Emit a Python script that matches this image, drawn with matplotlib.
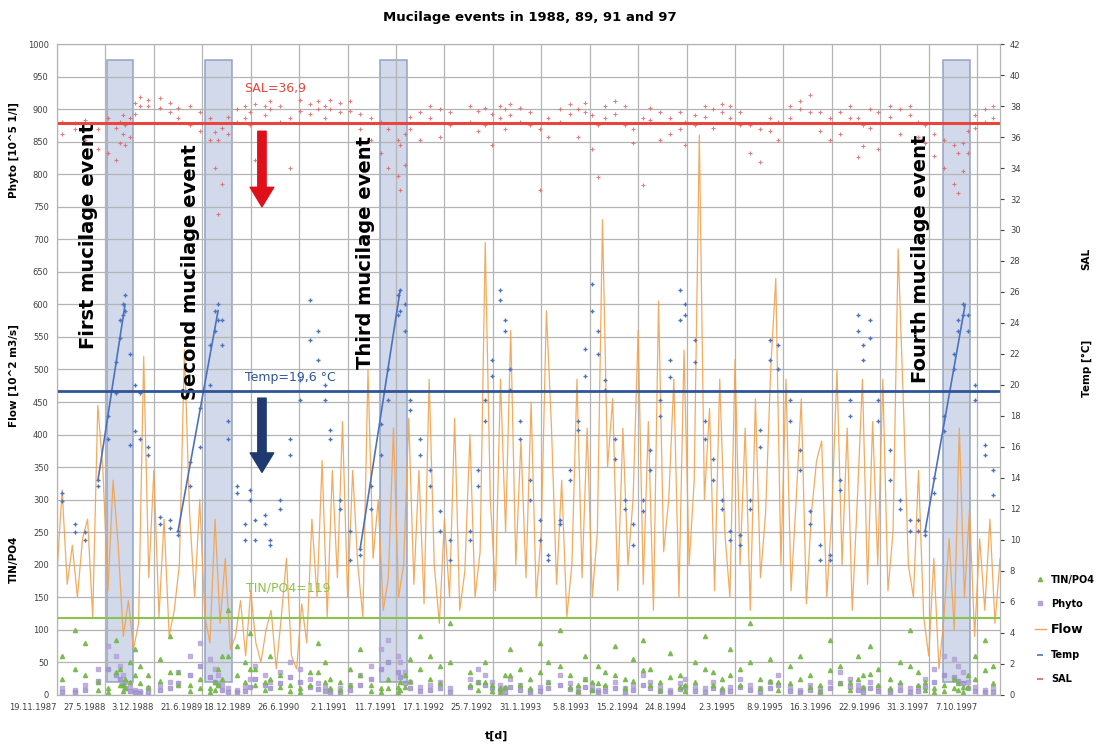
import numpy as np
import matplotlib.pyplot as plt
from matplotlib.patches import Rectangle
from matplotlib.lines import Line2D

###------------- data -------------###
# x axis: days since 19.11.1987, labels every 190 days
tick_labels = ['19.11.1987', '27.5.1988', '3.12.1988', '21.6.1989', '18.12.1989',
               '26.6.1990', '2.1.1991', '11.7.1991', '17.1.1992', '25.7.1992',
               '31.1.1993', '5.8.1993', '15.2.1994', '24.8.1994', '2.3.1995',
               '8.9.1995', '16.3.1996', '22.9.1996', '31.3.1997', '7.10.1997']
tick_days = [190 * i for i in range(len(tick_labels))]

# flow [10^2 m3/s], one value every 20 days
flow_days = np.arange(0, 3720, 20)
flow = [190, 315, 170, 230, 150, 240, 270, 120, 445, 345,
        160, 330, 230, 90, 145, 70, 110, 520, 180, 345,
        120, 270, 90, 130, 200, 530, 280, 150, 300, 120,
        80, 270, 110, 210, 70, 90, 145, 60, 160, 80,
        50, 100, 130, 40, 120, 210, 60, 40, 140, 80,
        270, 150, 360, 120, 345, 180, 420, 150, 345, 200,
        120, 500, 210, 300, 130, 180, 410, 150, 200, 425,
        170, 345, 140, 485, 200, 110, 270, 150, 425, 130,
        190, 400, 150, 220, 695, 300, 160, 485, 250, 560,
        200, 390, 180, 450, 150, 250, 590, 410, 170, 330,
        120, 200, 485, 180, 410, 150, 250, 730, 350, 455,
        160, 410, 200, 300, 560, 170, 420, 130, 605, 220,
        300, 485, 150, 530, 200, 330, 860, 300, 440, 160,
        485, 250, 150, 515, 200, 410, 130, 455, 180, 280,
        500, 640, 200, 485, 160, 300, 455, 140, 280, 360,
        390, 150, 280, 500, 200, 410, 130, 300, 485, 170,
        420, 200, 485, 160, 250, 685, 455, 200, 150, 345,
        120, 60, 210, 40, 120, 240, 100, 410, 150, 285,
        90, 240, 130, 270, 110, 210]

# sampling days
samp_days = [20, 70, 110, 161, 200, 230, 247, 259, 267, 286, 306, 326, 357,
             404, 443, 475, 520, 560, 600, 620, 632, 647, 671, 706, 738,
             757, 777, 816, 836, 875, 914, 954, 993, 1024, 1052, 1071, 1110,
             1150, 1189, 1230, 1270, 1300, 1338, 1346, 1366, 1385, 1424, 1464,
             1503, 1542, 1621, 1652, 1680, 1707, 1738, 1758, 1778, 1817, 1856,
             1895, 1927, 1974, 2013, 2044, 2072, 2099, 2123, 2150, 2190, 2229,
             2260, 2299, 2327, 2366, 2405, 2445, 2464, 2504, 2543, 2574, 2609,
             2641, 2680, 2719, 2759, 2798, 2829, 2876, 2916, 2955, 2994,
             3033, 3072, 3112, 3143, 3163, 3190, 3222, 3269, 3308, 3347,
             3379, 3406, 3440, 3480, 3520, 3536, 3555, 3575, 3602, 3641, 3673]

temp_a = [13.0, 11.0, 10.5, 13.9, 18.0, 21.5, 24.2, 25.2, 25.8, 22.0, 20.0, 19.5, 16.0,
          11.5, 11.3, 10.6, 15.0, 18.5, 22.6, 24.8, 25.2, 24.2, 17.7, 13.5, 11.0,
          13.2, 11.3, 11.6, 10.0, 12.6, 16.5, 20.3, 25.5, 23.5, 20.0, 17.1, 12.6,
          10.6, 9.4, 13.5, 17.5, 21.0, 25.8, 26.1, 25.2, 19.0, 16.5, 14.5,
          11.9, 10.0, 10.6, 14.5, 19.0, 21.6, 26.1, 24.2, 21.0, 17.7, 13.9,
          11.3, 9.0, 11.3, 14.5, 17.7, 22.3, 26.5, 23.5, 20.3, 16.5, 12.6,
          11.0, 12.6, 15.8, 19.0, 21.6, 26.1, 25.2, 22.9, 17.7, 15.2, 12.6,
          10.6, 10.3, 12.6, 17.1, 22.9, 22.6, 19.0, 15.8, 11.9, 9.7,
          9.0, 13.9, 19.0, 24.5, 22.6, 24.2, 19.0, 15.8, 12.6, 11.3,
          11.3, 10.6, 14.0, 18.0, 22.0, 24.2, 25.2, 24.5, 20.0, 16.1, 14.5]
temp_b = [12.5, 10.5, 10.0, 13.5, 16.5, 19.5, 23.0, 24.5, 24.8, 16.1, 17.0, 16.5, 15.5,
          11.0, 10.8, 10.3, 13.5, 16.0, 20.0, 23.5, 24.2, 22.6, 16.5, 13.0, 10.0,
          12.6, 10.0, 11.0, 9.7, 12.0, 15.5, 19.0, 22.9, 21.6, 19.0, 16.5, 12.0,
          8.7, 9.0, 12.0, 15.5, 19.0, 24.5, 24.8, 23.5, 18.4, 15.5, 13.5,
          10.6, 8.7, 10.0, 13.5, 17.7, 20.6, 25.5, 23.5, 19.7, 16.5, 12.6,
          10.0, 8.7, 11.0, 13.9, 17.1, 20.6, 24.8, 22.0, 19.7, 15.2, 12.0,
          9.7, 11.9, 14.5, 18.0, 20.5, 24.2, 24.5, 21.5, 16.5, 13.9, 12.0,
          10.0, 9.7, 12.0, 16.0, 21.6, 21.0, 17.7, 14.5, 11.0, 8.7,
          8.7, 13.2, 18.0, 23.5, 21.6, 23.0, 17.7, 13.9, 12.0, 10.6,
          10.6, 10.3, 13.0, 17.0, 21.0, 23.5, 24.5, 23.5, 19.0, 15.5, 12.9]

sal_a = [37.0, 36.9, 37.1, 36.5, 37.2, 36.6, 37.0, 37.4, 36.8, 37.2, 38.2, 38.6, 38.4,
         38.5, 38.2, 37.9, 38.0, 37.6, 37.2, 36.3, 35.8, 36.6, 37.3, 37.8, 38.0,
         37.6, 38.1, 38.0, 38.3, 38.0, 37.2, 38.4, 38.1, 38.3, 38.0, 38.4, 38.2,
         38.3, 37.5, 37.2, 37.0, 36.5, 35.8, 35.5, 36.2, 37.3, 37.6, 38.0,
         37.8, 37.6, 38.0, 37.7, 37.9, 37.5, 38.0, 37.8, 38.1, 37.9, 37.6,
         36.5, 37.2, 37.8, 38.1, 37.8, 38.2, 37.4, 36.8, 38.0, 38.3, 38.0,
         36.5, 37.2, 37.9, 37.6, 37.2, 37.6, 37.0, 37.4, 38.0, 37.8, 38.1,
         38.0, 37.6, 36.8, 36.5, 37.2, 37.0, 38.0, 38.3, 38.7, 37.6,
         37.2, 37.6, 38.0, 37.2, 36.8, 37.8, 37.6, 38.0, 37.8, 38.0,
         37.0, 36.8, 36.2, 35.8, 35.5, 35.0, 35.6, 36.4, 37.4, 37.8, 38.0]
sal_b = [36.2, 36.5, 35.8, 35.2, 35.0, 34.5, 35.6, 36.2, 35.5, 36.0, 37.5, 38.0, 38.0,
         37.9, 37.6, 37.2, 36.8, 36.4, 35.8, 34.0, 31.0, 33.0, 36.2, 37.0, 37.2,
         36.8, 34.5, 37.4, 37.8, 37.0, 34.0, 37.7, 37.5, 37.8, 37.2, 37.8, 37.6,
         37.7, 36.5, 35.8, 35.0, 34.0, 33.5, 32.6, 34.2, 36.5, 35.8, 37.2,
         36.0, 36.8, 37.0, 36.4, 36.8, 35.5, 37.2, 36.5, 37.4, 37.0, 36.8,
         32.6, 36.0, 37.0, 37.5, 36.0, 37.6, 35.2, 33.4, 37.2, 37.5, 36.8,
         35.6, 32.9, 37.1, 35.8, 36.2, 36.5, 35.5, 36.8, 37.3, 36.6, 37.6,
         37.2, 36.8, 35.0, 34.4, 36.4, 35.8, 37.2, 37.8, 37.6, 36.4,
         35.8, 36.2, 37.2, 34.7, 35.4, 36.6, 35.2, 37.3, 36.2, 37.4,
         36.0, 35.6, 34.8, 34.0, 33.0, 32.4, 33.8, 35.0, 36.6, 37.0, 37.2]

phyto_a = [10, 8, 15, 40, 75, 60, 45, 30, 20, 12, 8, 6, 10,
           15, 20, 35, 60, 80, 55, 40, 30, 15, 10, 8, 12,
           25, 45, 30, 20, 35, 50, 40, 25, 18, 12, 8, 10,
           15, 30, 45, 70, 85, 60, 50, 35, 20, 12, 15,
           20, 10, 25, 40, 30, 20, 15, 10, 25, 15, 8,
           12, 20, 30, 18, 10, 25, 15, 8, 12, 20, 10,
           15, 30, 20, 12, 8, 18, 25, 12, 10, 20, 8,
           12, 25, 15, 10, 20, 30, 12, 8, 15, 10,
           20, 35, 25, 15, 10, 20, 12, 8, 15, 10,
           12, 25, 40, 60, 55, 45, 35, 20, 12, 8, 10]
phyto_b = [5, 4, 8, 22, 40, 30, 25, 15, 10, 6, 4, 3, 5,
           8, 10, 18, 30, 45, 28, 20, 15, 8, 5, 4, 6,
           12, 25, 15, 10, 18, 28, 20, 12, 9, 6, 4, 5,
           8, 15, 25, 40, 50, 35, 28, 18, 10, 6, 8,
           10, 5, 12, 20, 15, 10, 8, 5, 12, 8, 4,
           6, 10, 15, 9, 5, 12, 8, 4, 6, 10, 5,
           8, 15, 10, 6, 4, 9, 12, 6, 5, 10, 4,
           6, 12, 8, 5, 10, 15, 6, 4, 8, 5,
           10, 18, 12, 8, 5, 10, 6, 4, 8, 5,
           6, 12, 20, 30, 28, 22, 18, 10, 6, 4, 5]

tin_a = [60, 100, 80, 20, 10, 85, 40, 15, 25, 50, 70, 45, 30,
         55, 90, 35, 15, 25, 10, 20, 40, 60, 130, 75, 50,
         95, 40, 20, 60, 30, 15, 10, 35, 80, 50, 25, 20,
         40, 70, 15, 10, 25, 12, 20, 30, 55, 90, 60,
         45, 110, 35, 20, 50, 15, 10, 30, 70, 40, 25,
         80, 50, 100, 30, 15, 60, 20, 45, 35, 75, 25,
         55, 85, 40, 20, 65, 30, 15, 50, 90, 35, 25,
         70, 40, 110, 25, 55, 20, 45, 60, 30, 15,
         85, 45, 20, 60, 30, 75, 40, 25, 50, 100,
         35, 20, 10, 15, 25, 18, 12, 30, 60, 85, 45]
tin_b = [25, 40, 30, 8, 5, 35, 15, 6, 10, 20, 30, 18, 12,
         22, 35, 15, 6, 10, 4, 8, 15, 25, 60, 30, 20,
         40, 15, 8, 25, 12, 6, 4, 15, 35, 20, 10, 8,
         15, 30, 6, 4, 10, 5, 8, 12, 22, 40, 25,
         18, 50, 15, 8, 20, 6, 4, 12, 30, 15, 10,
         35, 20, 45, 12, 6, 25, 8, 18, 15, 30, 10,
         22, 38, 15, 8, 28, 12, 6, 20, 40, 15, 10,
         30, 15, 50, 10, 22, 8, 18, 25, 12, 6,
         38, 18, 8, 25, 12, 32, 15, 10, 20, 45,
         15, 8, 4, 6, 10, 7, 5, 12, 25, 38, 18]

# mucilage events: start / end day
event_start = [196, 581, 1267, 3477]
event_end = [298, 687, 1373, 3582]
event_names = ['First mucilage event', 'Second mucilage event',
               'Third mucilage event', 'Fourth mucilage event']
event_text_day = [122, 522, 1209, 3388]
event_text_y = [705, 650, 680, 670]

# temperature rise lines during events (day, temp)
rise_day0 = [161, 475, 1189, 3406]
rise_t0 = [13.9, 10.6, 9.4, 10.6]
rise_day1 = [267, 632, 1346, 3563]
rise_t1 = [25.2, 24.8, 26.1, 25.2]

sal_mean = 36.9
temp_mean = 19.6
tin_mean = 119

###------------- figure -------------###
fig = plt.figure(figsize=(11.03, 7.51), dpi=100)
ax = fig.add_axes([0.0517, 0.0746, 0.855, 0.8668])
ax2 = ax.twinx()

grid_c = '#b4b4b4'
ax.set_xlim(0, 3700)
ax.set_ylim(0, 1000)
ax2.set_ylim(0, 42)
ax.set_yticks(np.arange(0, 1001, 50))
ax2.set_yticks(np.arange(0, 43, 2))
ax.set_xticks(tick_days)
ax.set_xticklabels(tick_labels, ha='right')
ax.grid(True, color=grid_c, lw=0.9)
for a in (ax, ax2):
    for s in a.spines.values():
        s.set_color(grid_c)
ax.tick_params(axis='both', labelsize=6, colors='#404040', length=0, pad=6)
ax2.tick_params(axis='y', labelsize=6, colors='#404040', length=3, pad=4)

# event boxes
for s, e in zip(event_start, event_end):
    ax.add_patch(Rectangle((s, 20), e - s, 955, facecolor='#c9d3e8',
                           edgecolor='#8c9dc0', lw=1.2, alpha=0.85, zorder=1))

# flow
ax.plot(flow_days, flow, color='#f2a24e', lw=0.9, alpha=0.9, zorder=2)

# phyto and TIN/PO4
ax.plot(samp_days, phyto_a, 's', color='#b4a2d8', ms=2.5, alpha=0.8, zorder=3)
ax.plot(samp_days, phyto_b, 's', color='#a090d0', ms=2.5, alpha=0.8, zorder=3)
ax.plot(samp_days, tin_a, '^', color='#76b84a', ms=3, alpha=0.9, zorder=3)
ax.plot(samp_days, tin_b, '^', color='#76b84a', ms=3, alpha=0.9, zorder=3)
ax.axhline(tin_mean, color='#8cc24e', lw=1.5, zorder=4)

# temperature and salinity on right axis
ax2.plot(samp_days, temp_a, '+', color='#4a72c0', ms=3.5, mew=1)
ax2.plot(samp_days, temp_b, '+', color='#4a72c0', ms=3.5, mew=1)
for d0, t0, d1, t1 in zip(rise_day0, rise_t0, rise_day1, rise_t1):
    ax2.plot([d0, d1], [t0, t1], color='#4a72c0', lw=1.2)
ax2.plot(samp_days, sal_a, '+', color='#e06060', ms=3.5, mew=0.8, alpha=0.8)
ax2.plot(samp_days, sal_b, '+', color='#e06060', ms=3.5, mew=0.8, alpha=0.8)
ax2.axhline(sal_mean, color='#e8463c', lw=2.2)
ax2.axhline(temp_mean, color='#2f5597', lw=2)

# annotations
for name, d, y in zip(event_names, event_text_day, event_text_y):
    ax.text(d, y, name, rotation=90, ha='center', va='center',
            fontsize=14, fontweight='bold', color='black', zorder=6)
ax.text(855, 932, 'SAL=36,9', color='#e8463c', fontsize=9, ha='center', va='center')
ax.text(914, 487, 'Temp=19,6 °C', color='#2f5597', fontsize=9, ha='center', va='center')
ax.text(906, 164, 'TIN/PO4=119', color='#8cc24e', fontsize=9, ha='center', va='center')
ax.annotate('', xy=(804, 750), xytext=(804, 866),
            arrowprops=dict(facecolor='#e0101a', edgecolor='#e0101a',
                            width=6, headwidth=17, headlength=14))
ax.annotate('', xy=(804, 342), xytext=(804, 456),
            arrowprops=dict(facecolor='#1f3a70', edgecolor='#1f3a70',
                            width=6, headwidth=17, headlength=14))

# titles and axis labels
fig.text(0.48, 0.977, 'Mucilage events in 1988, 89, 91 and 97', ha='center', va='center',
         fontsize=9.5, fontweight='bold')
fig.text(0.45, 0.02, 't[d]', ha='center', va='center', fontsize=8, fontweight='bold')
fig.text(0.013, 0.80, 'Phyto [10^5 1/l]', rotation=90, ha='center', va='center',
         fontsize=7.5, fontweight='bold')
fig.text(0.013, 0.50, 'Flow [10^2 m3/s]', rotation=90, ha='center', va='center',
         fontsize=7.5, fontweight='bold')
fig.text(0.013, 0.255, 'TIN/PO4', rotation=90, ha='center', va='center',
         fontsize=7.5, fontweight='bold')
fig.text(0.985, 0.655, 'SAL', rotation=90, ha='center', va='center',
         fontsize=7.5, fontweight='bold')
fig.text(0.985, 0.51, 'Temp [°C]', rotation=90, ha='center', va='center',
         fontsize=7.5, fontweight='bold')

# legend
handles = [Line2D([], [], ls='', marker='^', color='#76b84a', ms=3),
           Line2D([], [], ls='', marker='s', color='#b4a2d8', ms=3),
           Line2D([], [], color='#f2a24e', lw=1),
           Line2D([], [], ls='', marker='_', color='#4a72c0', ms=5, mew=1.2),
           Line2D([], [], ls='', marker='_', color='#e06060', ms=5, mew=1.2)]
leg = fig.legend(handles, ['TIN/PO4', 'Phyto', 'Flow', 'Temp', 'SAL'],
                 loc='center left', bbox_to_anchor=(0.93, 0.162), frameon=False,
                 fontsize=7, handlelength=1.2, labelspacing=1.45, handletextpad=0.5)
for t in leg.get_texts():
    t.set_fontweight('bold')
leg.get_texts()[2].set_fontsize(9)

plt.savefig('out.png', dpi=100)
